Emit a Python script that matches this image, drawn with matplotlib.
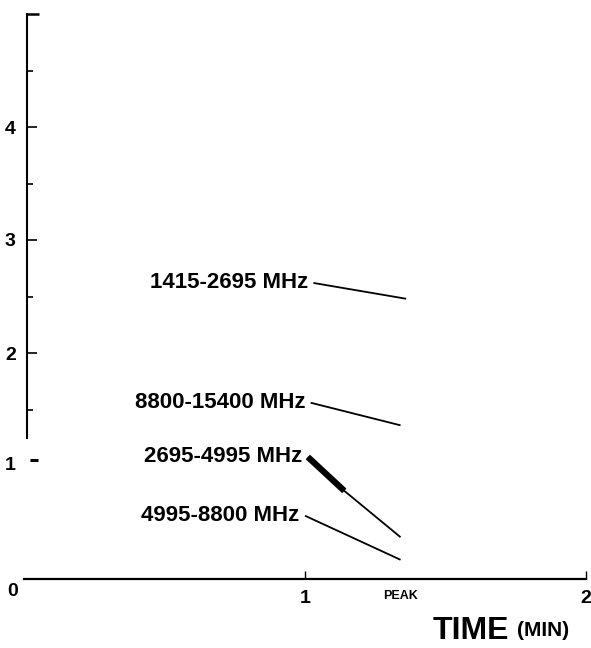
import matplotlib
matplotlib.use("Agg")
import matplotlib.pyplot as plt

plt.rcParams["font.family"] = ["Liberation Sans", "DejaVu Sans"]
plt.rcParams["font.weight"] = "bold"

# Flux decay curves per frequency band, from the start of the burst to the peak time
band_labels = ["1415-2695 MHz", "8800-15400 MHz", "2695-4995 MHz", "4995-8800 MHz"]
band_times = [
    [1.03, 1.36],
    [1.02, 1.34],
    [1.01, 1.14, 1.34],
    [1.00, 1.34],
]
band_values = [
    [2.62, 2.48],
    [1.56, 1.36],
    [1.08, 0.78, 0.37],
    [0.56, 0.17],
]
peak_time = 1.34

x_ticks = [1, 2]
x_tick_labels = ["1", "2"]
y_major = [2, 3, 4]
y_major_labels = ["2", "3", "4"]
y_minor = [1.5, 2.5, 3.5, 4.5]

W, H = 591, 648
fig = plt.figure(figsize=(W / 100, H / 100), dpi=100)
x0, x1 = 24, 586
y0, y1 = 579, 14
ax = fig.add_axes([x0 / W, (H - y0) / H, (x1 - x0) / W, (y0 - y1) / H])
ax.set_xlim(0, 2)
ax.set_ylim(0, 5)
ax.patch.set_alpha(0)

for s in ("top", "right"):
    ax.spines[s].set_visible(False)
ax.spines["bottom"].set_linewidth(1.6)
ax.spines["left"].set_linewidth(1.5)
ax.spines["left"].set_position(("data", 0.01))
ax.spines["left"].set_bounds(1.25, 5)

# y ticks
ax.set_yticks(y_major)
ax.set_yticklabels(y_major_labels, fontsize=14, fontweight="bold")
ax.set_yticks(y_minor, minor=True)
ax.tick_params(axis="y", which="major", direction="in", length=7, width=1.2, pad=8)
ax.tick_params(axis="y", which="minor", direction="in", length=4, width=1.2)
# top cap and the dash at 1
ax.plot([0.01, 0.055], [5, 5], color="black", lw=1.8, clip_on=False, solid_capstyle="butt")
ax.plot([0.02, 0.05], [1.05, 1.05], color="black", lw=2.2, clip_on=False, solid_capstyle="butt")
ax.text(-0.03, 1.0, "1", fontsize=14, fontweight="bold", ha="right", va="center")

# x ticks
ax.set_xticks(x_ticks)
ax.set_xticklabels(x_tick_labels, fontsize=14, fontweight="bold")
ax.tick_params(axis="x", which="major", direction="in", length=6, width=1.0, pad=8)
ax.set_xticks([peak_time], minor=True)
ax.set_xticklabels(["PEAK"], minor=True, fontsize=9, fontweight="bold")
ax.tick_params(axis="x", which="minor", length=0, pad=8)
ax.text(-0.02, -0.11, "0", fontsize=14, fontweight="bold", ha="right", va="center")

# axis title
ax.text(1.725, -0.46, "TIME", fontsize=23, fontweight="bold", ha="right", va="center")
ax.text(1.755, -0.46, "(MIN)", fontsize=15, fontweight="bold", ha="left", va="center")

# curves
for label, t, v in zip(band_labels, band_times, band_values):
    ax.plot(t, v, color="black", lw=1.3, solid_capstyle="butt")
    ax.annotate(label, xy=(t[0], v[0]), xytext=(-4, 0), textcoords="offset points",
                ha="right", va="center", fontsize=16, fontweight="bold")

# heavy initial segment of the 2695-4995 MHz curve
ax.plot(band_times[2][:2], band_values[2][:2], color="black", lw=4.5, solid_capstyle="butt")

fig.savefig("out.png", dpi=100)
